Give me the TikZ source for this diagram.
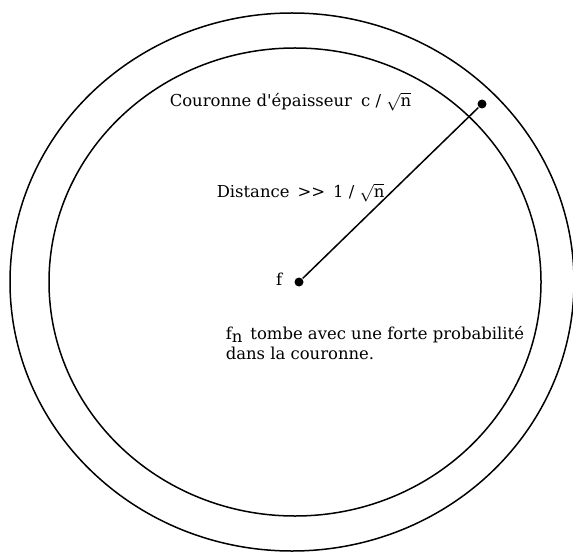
\documentclass[tikz,border=0pt]{standalone}
\usepackage{fontspec}
\setmainfont{DejaVu Serif}[Ligatures=TeXOff]
\usetikzlibrary{positioning}
\newcommand{\racn}{$\sqrt{\hbox{n}}$}
\begin{document}
\begin{tikzpicture}[x=1bp,y=-1bp,line width=1.5bp,
  dot/.style={circle,fill,inner sep=0pt,minimum size=9bp},
  lbl/.style={font=\fontsize{16.5}{20}\selectfont,inner sep=0pt,anchor=base west}]
\useasboundingbox (0,0) rectangle (573,552);
% the two circles
\draw (292,282) ellipse [x radius=282,y radius=269];
\draw (295,282) ellipse [x radius=246,y radius=234];
% centre and point on the crown
\node[dot] (f) at (299,282) {};
\node[dot] (g) at (482,104) {};
\draw (f) -- (g);
\node[lbl,anchor=base east] (flbl) at (283,285) {f};
\node[lbl] (crown) at (169,107) {Couronne d'épaisseur\hspace{9bp}c / \racn};
\node[lbl] (dist) at (216,198) {Distance\hspace{8bp}>>\hspace{8bp}1 / \racn};
\node[lbl,align=left] (fn) at (225,359) {f\raisebox{-3bp}{n}\hspace{8bp}tombe avec une forte probabilité\\dans la couronne.};
\end{tikzpicture}
\end{document}
